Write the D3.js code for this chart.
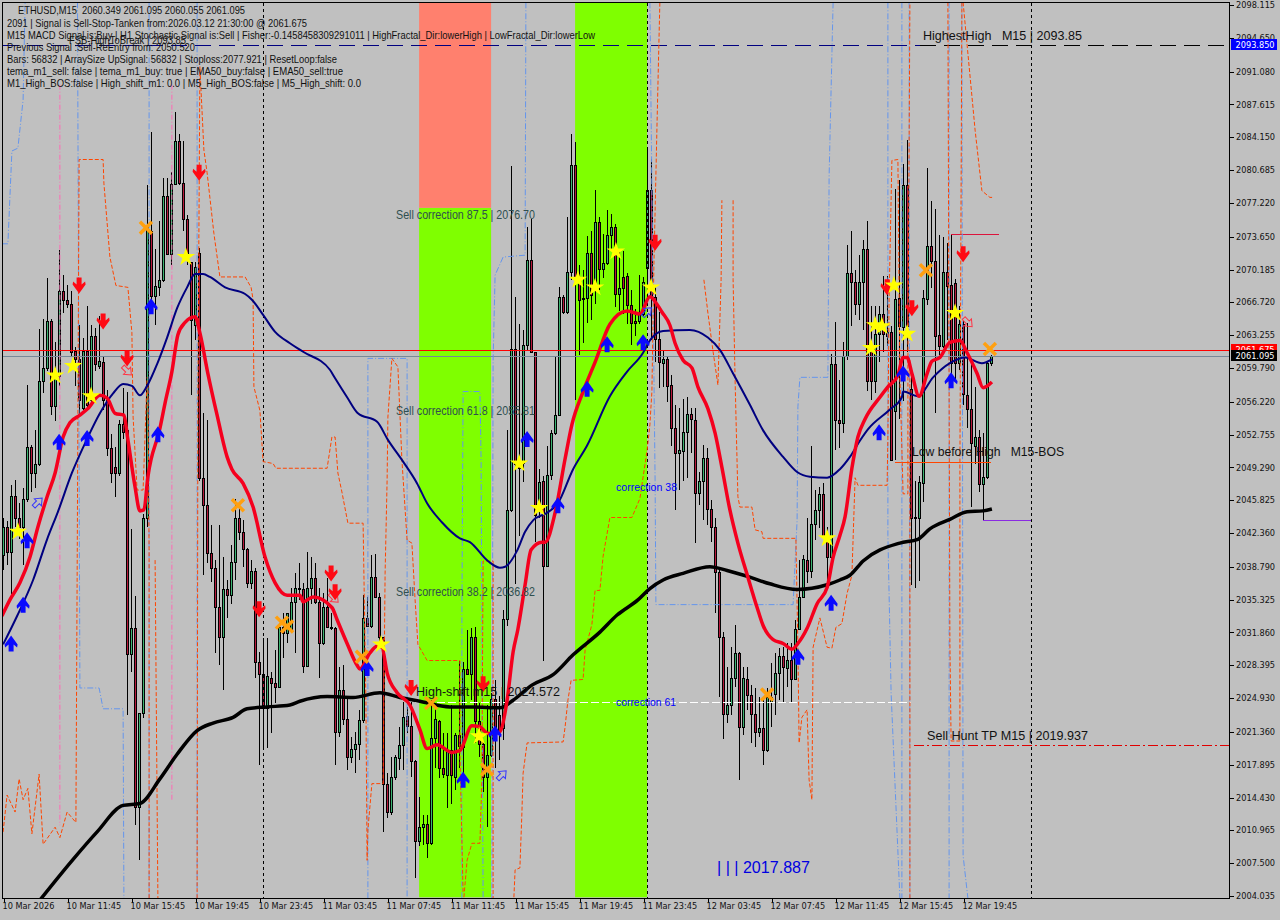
<!DOCTYPE html>
<html><head><meta charset="utf-8">
<script src="https://cdnjs.cloudflare.com/ajax/libs/d3/7.9.0/d3.min.js"></script>
<style>html,body{margin:0;padding:0;background:#c0c0c0}svg{display:block}</style>
</head><body><div id="chart"></div>
<script>
const opens=[2040.0,2043.0,2040.4,2046.3,2044.0,2043.0,2046.0,2051.4,2048.7,2049.7,
2058.4,2059.8,2064.8,2055.8,2058.9,2067.9,2067.0,2066.5,2061.6,2060.7,
2055.6,2061.6,2056.4,2063.2,2060.0,2060.4,2056.4,2051.3,2049.3,2048.7,
2053.9,2053.2,2029.6,2032.3,2013.4,2023.4,2043.9,2074.2,2067.4,2068.3,
2069.1,2078.0,2071.8,2079.2,2083.8,2079.3,2075.5,2071.0,2064.3,2071.9,
2048.2,2045.3,2040.3,2038.7,2034.5,2031.4,2036.4,2035.8,2039.3,2043.9,
2042.5,2040.7,2037.1,2038.4,2028.7,2027.5,2023.9,2027.1,2026.5,2026.1,
2032.4,2031.8,2032.1,2035.1,2036.6,2036.5,2028.3,2036.6,2037.6,2035.1,
2030.7,2034.6,2032.4,2032.3,2021.3,2025.8,2022.7,2018.7,2019.6,2020.1,
2022.6,2033.4,2032.5,2037.7,2035.6,2031.4,2015.9,2012.9,2016.6,2018.6,
2020.0,2023.0,2022.0,2018.3,2009.8,2011.3,2011.6,2009.6,2020.7,2022.5,
2017.6,2016.8,2019.4,2016.6,2021.0,2019.8,2028.0,2027.5,2031.4,2022.5,
2020.1,2016.6,2018.9,2024.8,2023.1,2021.8,2033.3,2044.8,2061.8,2049.8,
2049.8,2062.2,2071.2,2061.5,2045.0,2047.9,2038.9,2048.5,2052.9,2054.8,
2067.3,2065.7,2069.9,2081.2,2069.3,2067.1,2067.2,2071.9,2068.5,2075.2,
2070.2,2070.9,2073.8,2074.7,2067.6,2069.4,2069.5,2066.4,2064.7,2064.7,
2065.5,2070.3,2078.6,2067.3,2062.9,2060.3,2060.7,2058.0,2053.5,2050.8,
2051.0,2053.0,2054.9,2054.3,2046.6,2047.9,2050.3,2044.9,2043.0,2038.2,
2031.4,2023.2,2024.2,2027.1,2029.7,2021.9,2027.0,2025.3,2023.3,2021.4,
2021.8,2019.4,2024.5,2025.4,2027.6,2029.4,2028.1,2029.0,2027.0,2032.2,
2035.6,2039.5,2038.4,2043.3,2044.8,2046.5,2041.9,2039.8,2060.2,2054.3,
2054.0,2061.1,2069.8,2068.9,2066.5,2068.9,2072.4,2061.7,2058.4,2063.4,
2065.5,2063.6,2063.6,2055.2,2067.2,2064.1,2079.1,2057.6,2044.1,2043.9,
2047.6,2067.1,2072.7,2071.1,2063.3,2062.1,2069.9,2068.6,2068.8,2060.3,
2064.4,2056.9,2055.5,2051.6,2052.5,2047.5,2048.3,2060.3];
const closes=[2043.0,2040.4,2046.3,2044.0,2043.0,2046.0,2051.4,2048.7,2049.7,2058.4,
2059.8,2064.8,2055.8,2058.9,2067.9,2067.0,2066.5,2061.5,2060.7,2056.4,
2061.6,2055.9,2063.2,2060.2,2060.5,2056.4,2051.3,2048.7,2048.7,2053.9,
2053.0,2029.6,2032.3,2013.4,2023.4,2043.9,2074.7,2067.4,2068.4,2069.1,
2078.0,2071.8,2079.2,2083.8,2079.3,2075.5,2071.7,2064.9,2070.4,2048.2,
2045.3,2040.3,2038.7,2034.5,2031.4,2036.4,2035.8,2039.3,2043.9,2042.5,
2040.7,2037.1,2038.4,2028.7,2027.5,2023.9,2027.3,2026.5,2026.1,2032.4,
2031.8,2033.9,2035.1,2036.6,2036.5,2028.3,2036.6,2037.6,2035.1,2030.7,
2034.6,2032.4,2032.3,2021.3,2025.8,2022.7,2018.7,2019.6,2020.1,2022.6,
2033.4,2032.5,2037.7,2035.6,2031.4,2015.9,2012.9,2016.6,2018.7,2020.0,
2022.9,2022.0,2018.3,2009.8,2011.3,2011.6,2009.6,2020.7,2022.7,2017.6,
2016.9,2019.4,2016.8,2021.0,2019.9,2028.0,2027.5,2031.4,2022.5,2020.1,
2016.6,2018.9,2024.8,2021.8,2021.6,2033.3,2044.8,2061.8,2049.6,2049.2,
2062.2,2071.2,2061.5,2044.3,2047.8,2038.9,2048.5,2052.9,2054.8,2067.3,
2065.7,2069.9,2081.2,2069.3,2067.0,2067.2,2071.9,2067.5,2075.2,2070.2,
2070.9,2073.8,2074.7,2067.6,2068.2,2068.2,2066.4,2064.5,2064.5,2065.5,
2068.9,2078.6,2067.3,2062.9,2060.4,2060.7,2057.9,2053.5,2050.8,2051.1,
2053.0,2054.9,2054.4,2046.6,2047.9,2050.3,2044.9,2043.0,2038.2,2031.4,
2023.2,2024.2,2027.1,2029.7,2021.9,2027.1,2025.3,2023.3,2021.4,2021.8,
2019.4,2025.0,2025.0,2027.6,2029.4,2028.2,2029.0,2027.0,2032.2,2035.6,
2039.6,2038.4,2043.3,2044.8,2046.5,2041.9,2039.8,2060.2,2054.3,2054.0,
2061.1,2069.8,2068.9,2066.5,2068.9,2072.4,2058.4,2058.4,2063.4,2065.5,
2063.4,2063.2,2050.1,2067.1,2064.2,2079.1,2064.2,2043.9,2043.9,2047.7,
2067.2,2072.7,2071.1,2063.2,2062.1,2069.9,2068.4,2060.3,2060.3,2064.4,
2057.0,2055.5,2051.9,2052.5,2047.5,2048.3,2060.3,2061.1];
const highs=[2044.0,2043.6,2047.4,2048.0,2045.5,2047.1,2058.0,2051.7,2053.2,2063.9,
2065.0,2069.3,2065.0,2062.5,2072.2,2069.6,2068.6,2067.9,2062.0,2064.3,
2063.0,2066.3,2064.3,2064.0,2065.3,2060.9,2057.5,2052.8,2051.4,2054.3,
2057.7,2057.3,2042.8,2035.7,2023.4,2044.4,2079.1,2084.7,2072.4,2075.3,
2079.8,2079.9,2080.5,2086.8,2084.5,2083.8,2075.9,2071.0,2071.0,2072.5,
2055.0,2054.3,2043.2,2039.5,2043.2,2039.8,2037.4,2041.1,2046.0,2045.1,
2043.7,2040.8,2039.5,2038.7,2029.8,2031.3,2031.3,2027.7,2030.0,2032.9,
2033.9,2033.9,2036.6,2038.1,2039.2,2037.1,2040.4,2039.8,2039.2,2036.6,
2036.0,2037.6,2033.9,2032.4,2028.2,2028.4,2025.0,2020.8,2021.3,2023.7,
2035.8,2035.6,2040.0,2040.1,2036.0,2031.4,2017.0,2018.7,2018.9,2021.9,
2024.5,2024.0,2024.5,2018.4,2014.5,2012.6,2012.6,2024.7,2024.4,2022.6,
2021.2,2021.2,2024.2,2021.2,2028.9,2028.7,2032.1,2032.3,2032.4,2024.4,
2020.2,2024.2,2025.5,2026.8,2025.2,2034.2,2053.2,2081.1,2067.3,2064.4,
2063.8,2074.7,2075.5,2061.5,2049.1,2048.4,2051.6,2053.2,2060.9,2068.3,
2067.5,2075.7,2084.5,2083.6,2070.7,2070.1,2073.7,2074.2,2078.6,2075.7,
2073.9,2076.5,2076.0,2075.0,2072.1,2072.1,2069.8,2068.0,2066.0,2069.6,
2069.4,2083.1,2081.9,2068.5,2065.7,2061.7,2061.1,2059.0,2055.9,2055.6,
2056.5,2056.7,2055.6,2055.6,2048.8,2051.7,2051.3,2045.8,2044.0,2038.8,
2031.9,2028.2,2030.3,2032.6,2029.8,2028.2,2028.2,2026.3,2026.0,2025.0,
2024.9,2026.0,2028.6,2029.7,2030.2,2030.3,2030.7,2030.8,2033.2,2039.5,
2040.0,2044.0,2051.6,2046.9,2047.2,2047.6,2043.0,2061.3,2064.6,2058.5,
2062.5,2072.8,2074.2,2070.1,2071.7,2073.3,2075.3,2066.3,2066.3,2066.3,
2069.5,2069.5,2064.2,2078.7,2079.6,2081.3,2083.9,2058.8,2047.9,2048.4,
2068.0,2080.9,2077.4,2076.6,2073.8,2073.6,2073.0,2073.9,2069.2,2066.3,
2064.8,2064.5,2060.3,2057.8,2053.2,2052.9,2060.4,2061.2];
const lows=[2038.5,2039.0,2035.9,2043.0,2041.7,2039.0,2045.6,2046.7,2047.1,2049.4,
2057.1,2059.5,2054.8,2054.2,2057.9,2065.6,2066.1,2060.9,2057.9,2054.8,
2055.3,2055.3,2056.1,2059.5,2059.7,2055.3,2050.5,2047.6,2046.2,2048.4,
2052.3,2023.1,2027.7,2011.5,2007.8,2022.8,2043.0,2066.1,2064.3,2067.4,
2068.9,2071.7,2070.7,2079.1,2079.1,2074.2,2070.7,2056.9,2062.7,2047.9,
2037.9,2039.2,2037.2,2029.7,2028.4,2025.8,2033.4,2034.9,2037.4,2041.6,
2038.8,2036.6,2036.5,2027.1,2017.9,2019.8,2019.7,2021.2,2024.4,2026.0,
2029.2,2030.7,2031.8,2029.7,2035.3,2027.6,2028.2,2034.9,2034.9,2027.1,
2030.5,2032.3,2032.1,2017.9,2020.8,2022.1,2017.3,2018.1,2017.0,2018.4,
2022.3,2032.4,2032.3,2035.6,2030.3,2010.8,2012.3,2012.6,2016.3,2017.3,
2017.3,2021.2,2016.6,2005.9,2009.3,2009.4,2008.1,2009.4,2017.6,2016.5,
2016.5,2013.3,2013.8,2015.2,2017.6,2016.3,2027.4,2024.7,2020.2,2018.7,
2015.0,2011.3,2018.7,2017.6,2018.4,2020.5,2032.5,2044.6,2037.0,2042.0,
2047.8,2061.7,2061.4,2041.4,2044.0,2028.8,2038.9,2048.0,2052.7,2054.7,
2065.5,2065.5,2069.1,2056.4,2061.2,2062.4,2064.5,2064.9,2066.5,2068.0,
2069.3,2070.7,2072.1,2066.2,2065.8,2065.5,2064.4,2062.2,2063.2,2064.4,
2065.3,2067.0,2062.7,2060.4,2057.7,2057.8,2056.2,2051.6,2044.8,2046.9,
2047.9,2048.2,2050.8,2041.3,2045.3,2043.7,2043.2,2041.4,2033.9,2025.0,
2020.6,2022.3,2023.1,2026.1,2016.3,2021.0,2023.7,2020.2,2019.8,2020.8,
2017.9,2019.2,2021.9,2023.1,2024.7,2024.5,2026.1,2024.5,2027.0,2032.1,
2035.5,2037.1,2037.6,2041.6,2042.9,2041.9,2036.6,2039.2,2051.1,2051.3,
2052.9,2060.6,2064.2,2065.4,2064.9,2063.8,2057.4,2056.4,2057.1,2060.4,
2061.5,2062.1,2050.0,2050.1,2054.4,2056.3,2061.5,2036.9,2036.6,2037.3,
2045.6,2066.4,2068.2,2055.0,2061.2,2061.9,2062.7,2058.7,2058.5,2059.6,
2055.9,2053.5,2045.1,2049.7,2046.7,2043.7,2048.1,2060.0];

const redLine=[[-0.4,2033.6],[1.6,2035.3],[4.1,2037.1],[6.6,2039.8],[8.6,2043.0],[10.9,2046.2],[12.9,2048.7],[14.9,2052.5],[16.6,2054.0],[19.1,2054.8],[21.1,2055.5],[24.1,2056.9],[25.9,2056.6],[27.9,2055.0],[30.1,2054.8],[31.1,2052.2],[32.9,2047.2],[34.1,2044.7],[35.1,2044.8],[36.1,2048.3],[39.1,2053.4],[40.4,2056.1],[42.1,2059.4],[43.6,2063.3],[45.4,2064.6],[47.9,2065.2],[49.1,2063.5],[51.1,2059.2],[53.4,2054.8],[55.9,2050.4],[57.1,2049.1],[59.9,2047.6],[62.4,2045.1],[65.4,2039.8],[67.9,2037.1],[70.9,2035.8],[74.1,2035.8],[74.9,2035.1],[77.4,2035.6],[82.1,2034.5],[83.4,2033.2],[85.9,2030.7],[88.4,2028.4],[89.1,2028.0],[91.6,2029.7],[93.4,2030.4],[94.6,2030.3],[95.9,2027.6],[98.4,2025.5],[101.6,2024.2],[104.1,2021.6],[105.9,2019.6],[108.4,2020.0],[112.1,2019.2],[114.1,2019.4],[117.1,2022.0],[119.1,2021.9],[121.1,2021.2],[123.9,2021.3],[125.9,2024.7],[127.4,2029.8],[128.6,2032.2],[130.4,2036.9],[131.9,2040.6],[134.6,2041.4],[135.4,2041.4],[137.9,2044.5],[140.4,2050.2],[142.1,2053.8],[144.9,2057.3],[147.9,2060.4],[151.6,2064.4],[155.9,2065.8],[159.1,2065.5],[161.6,2067.3],[163.4,2066.5],[164.6,2065.7],[166.6,2064.3],[167.9,2062.4],[169.9,2060.6],[172.1,2059.8],[173.6,2057.8],[176.1,2055.5],[177.9,2052.9],[179.6,2049.3],[181.6,2044.8],[183.6,2041.3],[186.1,2037.7],[188.4,2034.5],[189.9,2032.6],[192.4,2031.1],[194.9,2030.7],[197.1,2030.1],[198.6,2030.7],[200.9,2032.3],[203.4,2034.9],[205.9,2036.6],[207.4,2039.8],[209.1,2042.1],[210.4,2044.1],[212.1,2049.2],[213.6,2052.5],[215.4,2054.4],[219.1,2056.7],[221.1,2057.8],[223.6,2059.0],[224.9,2060.9],[225.9,2060.9],[227.1,2059.2],[228.9,2056.8],[230.9,2059.2],[232.1,2060.5],[234.1,2060.9],[236.6,2062.5],[239.1,2062.7],[240.9,2061.4],[243.4,2059.2],[244.9,2057.7],[247.1,2058.3]];
const navyLine=[[-0.1,2030.6],[3.4,2033.6],[7.4,2037.4],[10.9,2041.7],[13.6,2044.6],[17.1,2048.7],[20.9,2052.3],[24.1,2055.0],[27.4,2057.1],[29.9,2058.1],[32.1,2057.9],[34.1,2056.9],[35.9,2057.9],[38.4,2060.2],[40.9,2063.0],[43.4,2066.1],[45.9,2068.3],[47.9,2069.7],[49.9,2069.7],[51.6,2069.4],[55.4,2068.3],[60.4,2067.6],[62.1,2067.0],[64.9,2065.4],[67.9,2063.6],[71.6,2062.4],[74.9,2061.5],[81.6,2059.6],[82.9,2058.7],[85.9,2056.7],[88.6,2055.0],[93.4,2054.1],[96.1,2052.2],[99.9,2049.9],[103.4,2047.6],[105.9,2045.5],[109.6,2043.5],[114.1,2041.8],[116.6,2041.4],[121.1,2039.4],[124.1,2038.7],[125.4,2038.8],[128.4,2040.5],[130.4,2042.5],[132.4,2043.7],[135.9,2044.5],[138.6,2045.5],[142.4,2049.1],[145.9,2051.6],[151.6,2056.8],[155.9,2059.4],[159.9,2061.4],[161.6,2062.7],[164.9,2063.7],[171.6,2063.8],[176.1,2063.0],[179.1,2061.7],[182.4,2059.2],[186.6,2055.9],[189.9,2053.2],[194.9,2050.4],[198.4,2048.8],[201.6,2048.3],[205.9,2048.2],[209.1,2049.1],[211.6,2050.4],[214.1,2052.1],[216.1,2053.3],[221.6,2055.4],[224.6,2056.7],[224.9,2057.3],[228.6,2056.8],[232.4,2058.8],[236.6,2060.3],[240.4,2060.9],[244.6,2060.3],[247.1,2060.7]];
const blackLine=[[9.1,2003.6],[17.4,2007.9],[23.4,2010.8],[29.9,2013.6],[34.1,2013.8],[39.1,2016.4],[43.4,2019.0],[48.4,2021.5],[52.4,2022.3],[57.4,2022.9],[60.9,2023.8],[65.9,2024.0],[71.6,2024.2],[74.1,2024.6],[80.9,2025.1],[87.4,2025.0],[94.1,2025.5],[99.1,2025.0],[104.1,2024.6],[111.6,2024.0],[117.4,2024.0],[124.1,2023.9],[127.4,2024.7],[132.1,2026.3],[137.4,2027.4],[142.4,2029.5],[149.1,2031.9],[153.4,2033.7],[158.6,2035.3],[161.6,2036.5],[164.9,2037.4],[169.9,2038.1],[176.6,2038.8],[180.9,2038.4],[186.6,2037.7],[191.6,2037.0],[198.4,2036.4],[205.9,2036.9],[209.1,2037.4],[211.6,2037.9],[214.9,2039.4],[224.1,2041.3],[228.6,2041.7],[231.6,2042.8],[236.6,2043.8],[240.9,2044.6],[244.9,2044.7],[247.1,2044.9]];

const orangePaths=[
[[-0.1,2010.8],[0.9,2014.7],[2.9,2012.9],[3.9,2016.4],[4.9,2014.2],[6.1,2015.4],[7.1,2010.6],[8.9,2016.9],[9.9,2009.5],[12.9,2011.3],[14.1,2010.2],[15.9,2012.9],[18.1,2011.8],[18.4,2036.9],[18.9,2081.8],[24.9,2081.8],[25.1,2079.3],[26.6,2071.5],[28.1,2068.5],[31.1,2068.3],[32.1,2063.5],[32.4,2054.6],[33.4,2046.9],[34.9,2046.9],[35.9,2058.8]],
[[36.4,2003.8],[36.4,2040.5],[36.1,2058.0]],
[[37.9,2039.5],[38.6,2003.8]],
[[48.4,2003.8],[48.6,2056.4],[49.1,2091.6],[50.1,2082.8],[50.9,2080.4],[52.6,2074.0],[54.1,2069.4],[60.4,2069.4],[61.9,2068.3],[62.4,2067.0],[62.6,2057.8],[64.1,2055.3],[64.9,2049.9],[67.4,2049.7],[68.1,2049.2],[80.9,2049.2],[82.1,2052.5],[82.9,2052.5],[83.6,2048.7],[84.6,2046.7],[86.1,2043.4],[89.9,2043.4],[90.6,2024.7],[90.9,2007.8],[91.1,2011.0],[92.1,2015.9],[94.9,2015.9],[95.4,2038.1],[95.9,2047.9],[96.1,2054.6],[97.1,2060.8],[98.6,2059.9],[99.6,2050.1],[100.9,2041.6],[102.1,2041.3],[102.9,2035.3],[103.6,2030.6],[105.9,2028.9],[114.1,2028.9],[114.1,2019.4],[114.9,2004.3]],
[[115.1,2003.9],[115.9,2007.8],[117.1,2009.6],[119.1,2009.6],[119.6,2016.3],[119.9,2039.4],[122.4,2039.4],[122.4,2003.8]],
[[127.6,2003.9],[127.9,2006.8],[129.1,2007.0],[129.6,2012.8],[129.9,2017.0],[130.9,2020.2],[139.9,2020.3],[140.4,2021.9],[141.1,2024.7],[141.9,2026.8],[144.9,2026.9],[145.4,2030.0],[147.1,2032.7],[147.9,2036.3],[149.1,2036.3],[149.9,2039.9],[151.6,2044.0],[157.1,2044.0],[159.1,2046.0],[160.9,2051.1],[161.6,2053.8],[162.1,2057.3],[162.6,2070.6],[163.4,2085.9],[164.1,2098.6]],
[[175.1,2069.1],[176.1,2065.6],[177.4,2061.5],[178.6,2058.0],[179.4,2069.1],[179.6,2077.5]],
[[182.4,2077.5],[182.4,2069.1],[182.9,2058.5],[183.6,2046.2],[184.1,2045.1],[187.1,2045.1],[187.9,2042.7],[189.6,2042.5],[189.9,2041.8],[198.1,2041.8],[198.6,2030.3],[198.9,2020.2],[199.6,2022.9],[200.9,2023.7],[201.4,2016.3],[202.1,2014.2],[202.4,2030.3],[204.1,2033.4],[205.9,2030.3],[207.1,2030.2],[208.1,2032.4],[209.6,2032.8],[210.9,2036.0],[212.1,2037.9],[212.9,2048.2],[213.6,2047.4],[220.9,2047.4],[221.1,2052.5],[221.4,2067.2],[222.1,2081.7],[223.6,2081.8],[224.1,2058.8],[224.9,2046.5],[226.1,2046.5],[226.1,2060.6],[226.6,2098.4]],
[[226.6,2060.6],[226.6,2003.8]],
[[236.1,2098.4],[236.6,2030.8],[236.9,2020.4],[239.1,2020.4],[239.1,2049.6],[239.6,2098.4]],
[[239.9,2098.4],[242.9,2084.9],[244.6,2078.5],[246.6,2077.8],[247.4,2077.8]]
];
const bluePaths=[
[[-0.4,2072.9],[1.1,2072.9],[2.1,2082.7],[3.6,2083.0],[4.9,2088.1],[5.4,2098.4]],
[[18.5,2098.4],[19.1,2026.0],[23.9,2026.0],[24.9,2023.8],[29.9,2023.8],[30.1,2003.8]],
[[36.4,2098.4],[36.4,2003.8]],
[[48.4,2098.4],[48.4,2003.8]],
[[91.1,2003.8],[91.1,2060.8],[100.9,2060.8],[100.9,2003.8]],
[[114.6,2003.8],[114.6,2033.8],[114.9,2057.3],[119.1,2057.3],[119.4,2050.1],[119.9,2003.8]],
[[130.6,2098.4],[130.4,2071.7],[124.9,2071.5],[122.9,2069.6],[122.4,2060.6],[122.1,2003.8]],
[[161.6,2098.4],[162.4,2067.0],[162.9,2047.9],[163.1,2034.8],[197.4,2034.8],[198.4,2043.7],[198.6,2055.7],[199.1,2058.8],[206.1,2058.8],[206.4,2080.0],[207.4,2098.4]],
[[221.1,2098.4],[221.1,2042.1],[221.9,2025.5],[224.1,2003.8]],
[[224.6,2098.4],[224.6,2003.8]],
[[226.4,2098.4],[226.6,2003.8]],
[[236.4,2098.4],[236.4,2003.8]],
[[239.6,2098.4],[239.9,2008.3],[241.1,2003.8]]
];
const pinkPaths=[[[14.1,2089.7],[14.1,2011.5]],[[42.1,2089.7],[42.1,2014.2]]];

const stars=[[3.6,2042.5],[12.9,2059.0],[17.4,2060.0],[21.9,2056.8],[45.6,2071.5],[94.4,2030.6],[118.9,2020.9],[128.9,2049.7],[133.9,2045.0],[143.6,2069.1],[147.9,2068.3],[153.1,2072.1],[161.9,2068.3],[205.9,2041.8],[216.9,2061.9],[217.9,2064.3],[219.6,2064.2],[222.6,2068.5],[225.9,2063.4],[237.9,2065.6]];
const crosses=[[35.6,2074.6],[58.6,2045.3],[69.6,2032.9],[70.9,2032.5],[89.6,2029.3],[106.9,2024.4],[120.9,2017.4],[190.9,2025.3],[230.6,2070.1],[246.6,2061.8]];
const sellArrows=[[18.9,2068.5],[24.9,2064.7],[30.9,2060.8],[48.9,2080.4],[63.9,2034.3],[81.9,2038.1],[82.9,2036.1],[101.9,2026.0],[119.9,2026.4],[162.9,2073.0],[220.9,2068.3],[227.1,2066.1],[239.9,2071.8]];
const buyArrows=[[1.9,2030.7],[4.9,2034.8],[5.9,2041.6],[13.9,2052.0],[20.9,2052.4],[36.9,2066.3],[38.6,2052.8],[90.9,2028.1],[114.9,2016.3],[122.9,2021.2],[130.9,2052.3],[138.6,2045.3],[145.9,2057.6],[150.9,2062.3],[159.9,2062.5],[198.6,2029.3],[206.9,2035.0],[218.9,2053.0],[224.9,2059.2],[236.9,2058.5]];
const hollowBuy=[[8.6,2045.6],[124.6,2016.8],[160.9,2065.7]];
const hollowSell=[[30.9,2059.5],[82.6,2035.5],[241.1,2064.6]];

const priceTicks=[2098.115,2094.650,2091.080,2087.615,2084.150,2080.685,2077.220,2073.650,2070.185,2066.720,2063.255,2059.790,2056.220,2052.755,2049.290,2045.825,2042.360,2038.790,2035.325,2031.860,2028.395,2024.930,2021.360,2017.895,2014.430,2010.965,2007.500,2004.035];
const timeBars=[0,16,32,48,64,80,96,112,128,144,160,176,192,208,224,240];
const timeLabels=["10 Mar 2026","10 Mar 11:45","10 Mar 15:45","10 Mar 19:45","10 Mar 23:45","11 Mar 03:45","11 Mar 07:45","11 Mar 11:45","11 Mar 15:45","11 Mar 19:45","11 Mar 23:45","12 Mar 03:45","12 Mar 07:45","12 Mar 11:45","12 Mar 15:45","12 Mar 19:45"];
const infoLines=["ETHUSD,M15  2060.349 2061.095 2060.055 2061.095","2091 | Signal is Sell-Stop-Tanken from:2026.03.12 21:30:00 @ 2061.675","M15 MACD Signal is:Buy | H1 Stochastic Signal is:Sell | Fisher:-0.1458458309291011 | HighFractal_Dir:lowerHigh | LowFractal_Dir:lowerLow","Previous Signal :Sell-ReEntry from: 2050.520","Bars: 56832 | ArraySize UpSignal: 56832 | Stoploss:2077.921 | ResetLoop:false","tema_m1_sell: false | tema_m1_buy: true | EMA50_buy:false | EMA50_sell:true","M1_High_BOS:false | High_shift_m1: 0.0 | M5_High_BOS:false | M5_High_shift: 0.0"];
const periodBars=[65,160.9,257.1];
const zoneBars=[[103.9,121.9],[142.9,160.9]];
const zoneTop=2098.4, zoneMid=2076.70, zoneBottom=2003.9;
const highestHigh=2093.85, askLine=2061.675, bidLine=2061.095, shiftHigh=2024.572, huntTP=2019.937;
const stopLevel=2073.93, bosLevel=2049.9, lowLevel=2043.7;

const W=1280,H=920;
const x=d3.scaleLinear().domain([0,247]).range([3.5,991.5]);
const y=d3.scaleLinear().domain([2004.035,2098.115]).range([896,5]);
const svg=d3.select("#chart").append("svg").attr("width",W).attr("height",H).style("background","#c0c0c0");
svg.append("defs").append("clipPath").attr("id","plot").append("rect").attr("x",3).attr("y",3).attr("width",1226).attr("height",895);
const g=svg.append("g").attr("clip-path","url(#plot)");
const px=v=>Math.round(y(v));

zoneBars.forEach((z,i)=>{
  g.append("rect").attr("x",x(z[0])).attr("width",x(z[1])-x(z[0])).attr("y",i==0?y(zoneMid):y(zoneTop)).attr("height",i==0?y(zoneBottom)-y(zoneMid):y(zoneBottom)-y(zoneTop)).attr("fill","#7fff00");
});
g.append("rect").attr("x",x(zoneBars[0][0])).attr("width",x(zoneBars[0][1])-x(zoneBars[0][0])).attr("y",y(zoneTop)).attr("height",y(zoneMid)-y(zoneTop)).attr("fill","#ff806e");

function hline(v,x1,x2,color,dash,w){g.append("line").attr("x1",x1).attr("x2",x2).attr("y1",px(v)+.5).attr("y2",px(v)+.5).attr("stroke",color).attr("stroke-width",w||1).attr("stroke-dasharray",dash||null).attr("shape-rendering","crispEdges");}

const bars=opens.map((o,i)=>({i,o,c:closes[i],h:highs[i],l:lows[i]}));
const cg=g.append("g").attr("shape-rendering","crispEdges");
cg.selectAll("line").data(bars).join("line").attr("x1",d=>x(d.i)).attr("x2",d=>x(d.i)).attr("y1",d=>px(d.h)).attr("y2",d=>px(d.l)).attr("stroke","#000");
cg.selectAll("rect").data(bars).join("rect").attr("x",d=>x(d.i)-1).attr("width",2)
 .attr("y",d=>px(Math.max(d.o,d.c))+.5).attr("height",d=>Math.max(0,px(Math.min(d.o,d.c))-px(Math.max(d.o,d.c))))
 .attr("fill",d=>d.c>=d.o?"#3cb371":"#b8183c").attr("stroke","#000");

hline(askLine,3,1229,"#ff0000");
hline(bidLine,3,1229,"#778899");
hline(highestHigh,3,920,"#000080","16 8");
hline(highestHigh,920,1229,"#000","16 8");
hline(shiftHigh,415,911,"#ffffff","8 3");
hline(huntTP,914,1229,"#e00000","10 3 2 3");
hline(stopLevel,951,999,"#dc143c");
hline(bosLevel,895,991,"#ff4500");
hline(lowLevel,983,1032,"#8a2be2");

g.selectAll(".sep").data(periodBars).join("line").attr("class","sep").attr("x1",d=>x(d)).attr("x2",d=>x(d)).attr("y1",3).attr("y2",898).attr("stroke","#000").attr("stroke-dasharray","3 3").attr("shape-rendering","crispEdges");

const line=d3.line().x(d=>x(d[0])).y(d=>y(d[1]));
const smooth=d3.line().x(d=>x(d[0])).y(d=>y(d[1])).curve(d3.curveMonotoneX);
function paths(data,color,dash,w){g.append("g").selectAll("path").data(data).join("path").attr("d",line).attr("fill","none").attr("stroke",color).attr("stroke-width",w).attr("stroke-dasharray",dash);}
paths(pinkPaths,"#ff69b4","5 2 1 2",1);
paths(bluePaths,"#6495ed","6 2 1 2",1);
paths(orangePaths,"#ff4500","4 2",1);

g.append("path").datum(blackLine).attr("d",smooth).attr("fill","none").attr("stroke","#000").attr("stroke-width",3.5);
g.append("path").datum(navyLine).attr("d",smooth).attr("fill","none").attr("stroke","#000080").attr("stroke-width",2);
g.append("path").datum(redLine).attr("d",smooth).attr("fill","none").attr("stroke","#f5001e").attr("stroke-width",3.5);

const arrowDown="M-2.5,-8L2.5,-8L2.5,-1L6,-4L6.5,-1L0,8L-6.5,-1L-6,-4L-2.5,-1Z";
const arrowUp="M-2.5,8L2.5,8L2.5,1L6,4L6.5,1L0,-8L-6.5,1L-6,4L-2.5,1Z";
const hollowShape="M-2,6L2,6L2,0L5,0L0,-6L-5,0L-2,0Z";
function marks(data,fn){g.append("g").selectAll("g").data(data).join("g").attr("transform",d=>`translate(${x(d[0])},${y(d[1])})`).each(fn);}
marks(hollowBuy,function(){d3.select(this).append("path").attr("d",hollowShape).attr("transform","rotate(45)").attr("fill","none").attr("stroke","#3333ff");});
marks(hollowSell,function(){d3.select(this).append("path").attr("d",hollowShape).attr("transform","rotate(135)").attr("fill","none").attr("stroke","#ff3344");});
marks(sellArrows,function(){d3.select(this).append("path").attr("d",arrowDown).attr("fill","#ff0a14");});
marks(buyArrows,function(){d3.select(this).append("path").attr("d",arrowUp).attr("fill","#0a0aff");});
marks(crosses,function(){const s=d3.select(this);
  s.append("line").attr("x1",-6).attr("y1",-6).attr("x2",6).attr("y2",6);
  s.append("line").attr("x1",-6).attr("y1",6).attr("x2",6).attr("y2",-6);
  s.selectAll("line").attr("stroke","#ffa010").attr("stroke-width",3.5);});
marks(stars,function(){d3.select(this).append("path").attr("d",d3.symbol(d3.symbolStar,105)()).attr("fill","#ffff00");});

function label(t,xp,yp,size,color,width,parent){const e=(parent||svg).append("text").attr("x",xp).attr("y",yp).attr("font-family","'Liberation Sans',Arial,sans-serif").attr("font-size",size).attr("fill",color).attr("xml:space","preserve").style("white-space","pre").text(t);
  if(width)e.attr("textLength",width).attr("lengthAdjust","spacingAndGlyphs");return e;}
const infoX=[18,7,7,7,7,7,7],infoW=[227,300,588,188,330,336,354],infoY=[14,27,39,51,63,75,87];
infoLines.forEach((t,i)=>label(t,infoX[i],infoY[i],10.5,"#111",infoW[i]));
label("FSB-HighToBreak | 2093.85",69,44,10.5,"#111",117);
label("Sell correction 87.5 | 2076.70",396,219,12,"#2f4f4f",139);
label("Sell correction 61.8 | 2055.81",396,415,12,"#2f4f4f",139);
label("Sell correction 38.2 | 2036.82",396,596,12,"#2f4f4f",139);
label("High-shift m15 | 2024.572",416,696,13,"#111",144);
label("correction 38",616,491,11,"#0000ff",61);
label("correction 61",616,706,11,"#0000ff",60);
label("| | | 2017.887",717,873,16,"#0000e0",93);
label("HighestHigh   M15 | 2093.85",923,40,12.5,"#111",159);
label("Low before High   M15-BOS",912,456,12.5,"#111",152);
label("Sell Hunt TP M15 | 2019.937",927,740,12.5,"#111",161);

const axisFont="'DejaVu Sans',Verdana,sans-serif";
const ya=svg.append("g").attr("transform","translate(1229.5,0)").call(d3.axisRight(y).tickValues(priceTicks).tickSize(4).tickPadding(3).tickFormat(d=>d.toFixed(3)));
const xa=svg.append("g").attr("transform","translate(0,898.5)").call(d3.axisBottom(x).tickValues(timeBars).tickSize(4).tickPadding(2).tickFormat((d,i)=>timeLabels[i]));
[ya,xa].forEach(a=>{a.select(".domain").remove();a.selectAll("line").attr("stroke","#000").attr("shape-rendering","crispEdges");a.selectAll("text").attr("fill","#111").attr("font-family",axisFont).attr("font-size",8.2);});
ya.selectAll("text").attr("x",6.5);
xa.selectAll("text").attr("text-anchor","start").attr("x",-1.5).attr("y",5);

function tag(v,bg,fg,txt){const yy=px(v);
  svg.append("rect").attr("x",1231).attr("y",yy-6).attr("width",46).attr("height",11).attr("fill",bg);
  svg.append("text").attr("x",1235.5).attr("y",yy+3).attr("font-family",axisFont).attr("font-size",8.2).attr("fill",fg).text(txt);}
tag(highestHigh,"#0000ff","#ffffff","2093.850");
tag(askLine,"#ff0000","#ffffff","2061.675");
tag(bidLine,"#000000","#ffffff","2061.095");

svg.append("rect").attr("x",2.5).attr("y",2.5).attr("width",1227).attr("height",896).attr("fill","none").attr("stroke","#000").attr("shape-rendering","crispEdges");
svg.append("line").attr("x1",2).attr("x2",2).attr("y1",2).attr("y2",899).attr("stroke","#000").attr("shape-rendering","crispEdges");
svg.append("line").attr("x1",2).attr("x2",1230).attr("y1",2).attr("y2",2).attr("stroke","#000").attr("shape-rendering","crispEdges");
</script></body></html>
